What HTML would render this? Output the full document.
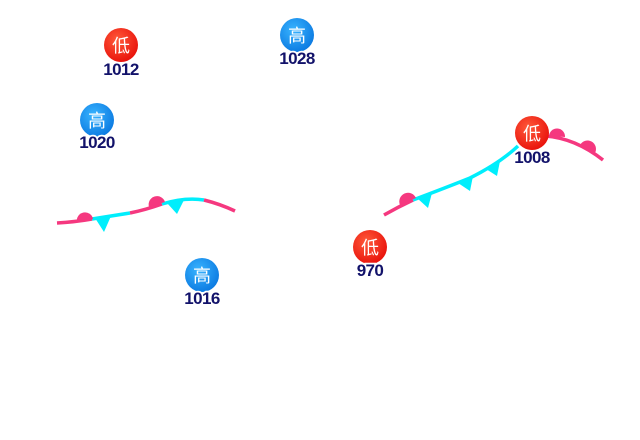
<!DOCTYPE html>
<html><head><meta charset="utf-8"><style>
html,body{margin:0;padding:0;background:#fff;width:640px;height:440px;overflow:hidden}
text{font-family:"Liberation Sans","Noto Sans CJK SC",sans-serif}
.sym{fill:#fff;font-size:18px;text-anchor:middle}
.num{fill:#12126a;font-size:17px;font-weight:bold;text-anchor:middle;stroke:#fff;stroke-width:3.5px;paint-order:stroke;letter-spacing:-0.6px}
</style></head><body>
<svg width="640" height="440" viewBox="0 0 640 440">
<defs>
<radialGradient id="lo" cx="40%" cy="35%" r="70%"><stop offset="0" stop-color="#ff5a3a"/><stop offset="1" stop-color="#e8100a"/></radialGradient>
<radialGradient id="hi" cx="40%" cy="35%" r="70%"><stop offset="0" stop-color="#39b4ff"/><stop offset="1" stop-color="#0a78e0"/></radialGradient>
</defs>
<g fill="none" stroke-width="3.5" stroke-linecap="butt">
<path d="M57,223 Q75,222 92,219" stroke="#f5387f"/>
<path d="M92,219 L130,213" stroke="#00eefc"/>
<path d="M130,213 Q145,210 162,204" stroke="#f5387f"/>
<path d="M162,204 Q185,197 204,200" stroke="#00eefc"/>
<path d="M204,200 Q220,204 235,211" stroke="#f5387f"/>
<path d="M384,215 Q398,207 413,200" stroke="#f5387f"/>
<path d="M413,200 Q445,188 470,178 Q500,163 518,146" stroke="#00eefc"/>
<path d="M545,136 Q575,138 603,160" stroke="#f5387f"/>
</g>
<g fill="#f5387f">
<path d="M77,222 A8,8 0 0 1 93,219 Z"/>
<path d="M149,207 A8,8 0 0 1 165,202 Z"/>
<path d="M400,205 A8,8 0 0 1 416,198 Z"/>
<path d="M549,136 A8,8 0 0 1 565,137 Z"/>
<path d="M580,145 A8,8 0 0 1 595,153 Z"/>
</g>
<g fill="#00eefc">
<path d="M95,218 L111,216 L104,232 Z"/>
<path d="M167,203 L184,200 L177,214 Z"/>
<path d="M417,198 L432,193 L428,208 Z"/>
<path d="M458,183 L473,176 L470,191 Z"/>
<path d="M486,169 L500,161 L497,176 Z"/>
</g>
<g>
<circle cx="121" cy="45" r="17" fill="url(#lo)"/><text class="sym" x="121" y="52">低</text><text class="num" x="121" y="75">1012</text>
<circle cx="297" cy="35" r="17" fill="url(#hi)"/><text class="sym" x="297" y="42">高</text><text class="num" x="297" y="64">1028</text>
<circle cx="97" cy="120" r="17" fill="url(#hi)"/><text class="sym" x="97" y="127">高</text><text class="num" x="97" y="148">1020</text>
<circle cx="202" cy="275" r="17" fill="url(#hi)"/><text class="sym" x="202" y="282">高</text><text class="num" x="202" y="304">1016</text>
<circle cx="370" cy="247" r="17" fill="url(#lo)"/><text class="sym" x="370" y="254">低</text><text class="num" x="370" y="276">970</text>
<circle cx="532" cy="133" r="17" fill="url(#lo)"/><text class="sym" x="532" y="140">低</text><text class="num" x="532" y="163">1008</text>
</g>
</svg>
</body></html>
